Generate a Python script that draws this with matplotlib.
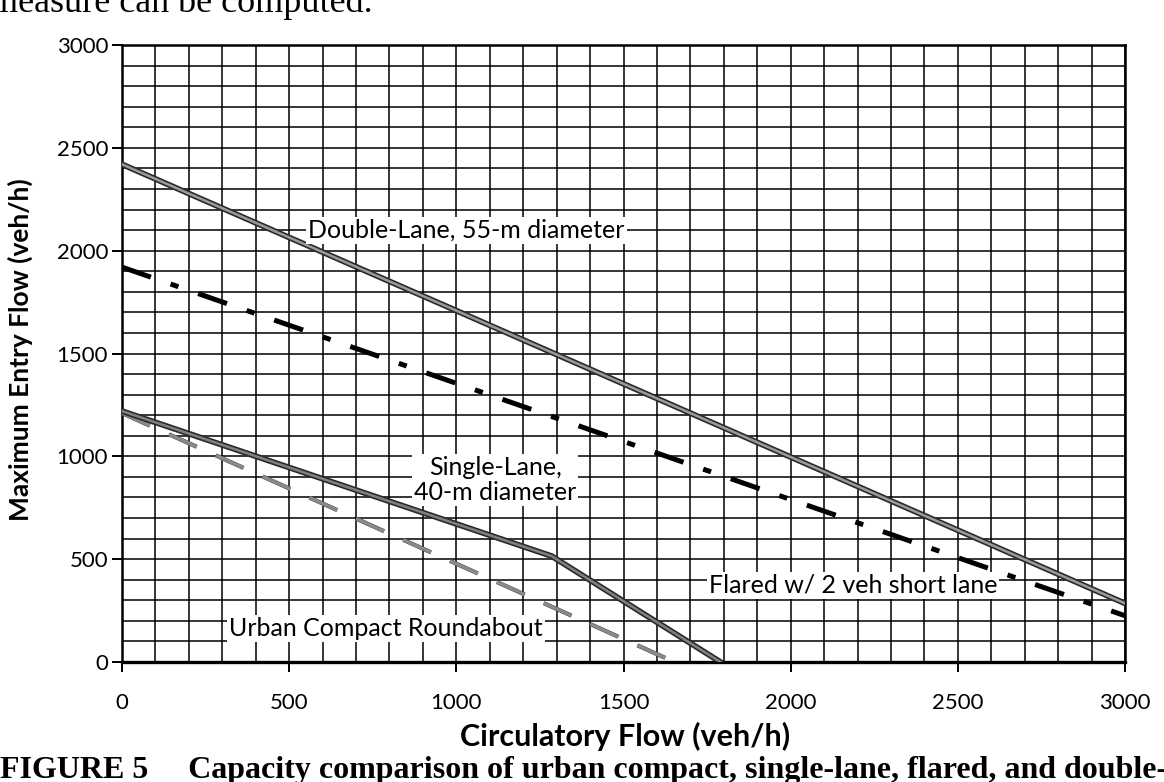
import matplotlib
matplotlib.use("Agg")
import matplotlib.pyplot as plt
import matplotlib.patheffects as pe
import numpy as np

# circulatory flow (veh/h) vs maximum entry flow (veh/h)
double_x = [0, 3000]
double_y = [2420, 285]

flared_x = [0, 3000]
flared_y = [1920, 225]

single_x = [0, 1285, 1790]
single_y = [1220, 515, 0]

urban_x = [0, 1625]
urban_y = [1210, 20]

x_ticks = [0, 500, 1000, 1500, 2000, 2500, 3000]
y_ticks = [0, 500, 1000, 1500, 2000, 2500, 3000]

sans = ["Lato", "DejaVu Sans"]
serif = ["Liberation Serif", "DejaVu Serif"]

fig = plt.figure(figsize=(11.64, 7.82), dpi=100)
ax = fig.add_axes([122 / 1164, 1 - 662 / 782, 1003 / 1164, 617 / 782])

ax.set_xlim(0, 3000)
ax.set_ylim(0, 3000)
ax.set_xticks(x_ticks)
ax.set_yticks(y_ticks)
ax.set_xticks(np.arange(0, 3001, 100), minor=True)
ax.set_yticks(np.arange(0, 3001, 100), minor=True)
ax.grid(which="both", color="black", linewidth=1.1)
ax.set_axisbelow(True)
ax.tick_params(which="minor", length=0)
ax.tick_params(which="major", length=7, width=1.4, direction="out",
               labelsize=16, color="black")
ax.tick_params(axis="x", pad=15)
ax.tick_params(axis="y", pad=3)
for lab in ax.get_xticklabels() + ax.get_yticklabels():
    lab.set_family(sans)
for s in ax.spines.values():
    s.set_linewidth(1.8)
ax.spines["bottom"].set_linewidth(2.4)

hatched = [pe.Stroke(linewidth=4.2, foreground="#2a2a2a"), pe.Normal()]

ax.plot(double_x, double_y, color="#9a9a9a", linewidth=1.8,
        path_effects=hatched, zorder=3)

lw_fl = 3.6
ax.plot(flared_x, flared_y, color="black", linewidth=lw_fl, zorder=3,
        solid_capstyle="butt",
        dashes=(22 / lw_fl, 15 / lw_fl, 6 / lw_fl, 15 / lw_fl))

ax.plot(single_x, single_y, color="#808080", linewidth=1.8,
        path_effects=hatched, zorder=4)

lw_u = 2.4
ax.plot(urban_x, urban_y, color="#8a8a8a", linewidth=lw_u, zorder=3,
        dashes=(22 / lw_u, 15 / lw_u),
        path_effects=[pe.Stroke(linewidth=3.0, foreground="#444444"), pe.Normal()])

box = dict(facecolor="white", edgecolor="none", pad=1.5)
ax.text(1030, 2100, "Double-Lane, 55-m diameter", fontsize=18, family=sans,
        ha="center", va="center", bbox=box, zorder=5)
ax.text(1116, 885, "Single-Lane,\n40-m diameter", fontsize=18, family=sans,
        ha="center", va="center", linespacing=1.15, bbox=box, zorder=5)
ax.text(2187, 372, "Flared w/ 2 veh short lane", fontsize=18, family=sans,
        ha="center", va="center", bbox=box, zorder=5)
ax.text(790, 165, "Urban Compact Roundabout", fontsize=18, family=sans,
        ha="center", va="center", bbox=box, zorder=5)

fig.text(20 / 1164, 1 - 350 / 782, "Maximum Entry Flow (veh/h)", rotation=90,
         fontsize=19, fontweight="bold", family=sans, ha="center", va="center")
fig.text(625 / 1164, 1 - 736 / 782, "Circulatory Flow (veh/h)",
         fontsize=22, fontweight="bold", family=sans, ha="center", va="center")

fig.text(-10 / 1164, 1 - 12 / 782, "measure can be computed.", fontsize=26,
         family=serif, ha="left", va="baseline")
fig.text(0 / 1164, 1 - 778 / 782,
         "FIGURE 5     Capacity comparison of urban compact, single-lane, flared, and double-",
         fontsize=23, fontweight="bold", family=serif, ha="left", va="baseline")

fig.savefig("out.png", dpi=100)
